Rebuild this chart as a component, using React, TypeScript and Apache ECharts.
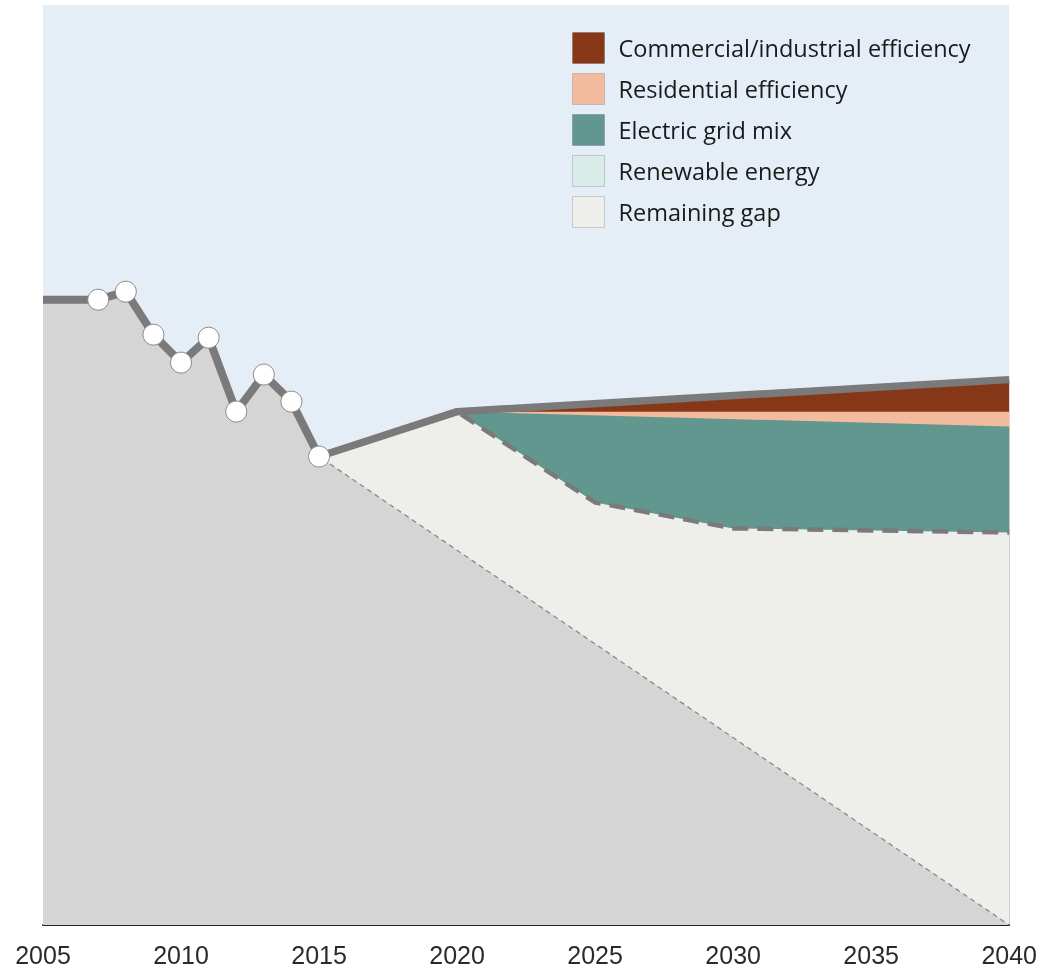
import React, { useEffect, useRef } from "react";
import * as echarts from "echarts";

// Historical record (arbitrary emission units, 0 = axis baseline)
const histYears = [2005, 2007, 2008, 2009, 2010, 2011, 2012, 2013, 2014, 2015];
const histValues = [67.97, 67.97, 68.84, 64.17, 61.13, 63.84, 55.81, 59.83, 56.89, 50.92];

// Projected emissions (top of wedges)
const projYears = [2015, 2020, 2040];
const projValues = [50.92, 55.8, 59.28];

// Top of residential efficiency wedge
const resYears = [2020, 2040];
const resTop = [55.8, 55.8];

// Top of electric grid mix wedge
const gridYears = [2020, 2040];
const gridTop = [55.8, 54.18];

// Bottom of electric grid mix wedge (dashed line) = top of remaining gap
const gridBottomYears = [2020, 2025, 2030, 2035, 2040];
const gridBottom = [55.8, 45.93, 43.11, 42.89, 42.67];

// Target pathway (thin dashed)
const targetYears = [2015, 2040];
const targetValues = [50.92, 0];

const xTicks = [2005, 2010, 2015, 2020, 2025, 2030, 2035, 2040];

const legendNames = [
  "Commercial/industrial efficiency",
  "Residential efficiency",
  "Electric grid mix",
  "Renewable energy",
  "Remaining gap",
];

const COLORS = {
  commercial: "#863718",
  residential: "#f3bb9d",
  grid: "#62978f",
  renewable: "#d9ebe8",
  gap: "#eeefeb",
  base: "#d5d5d5",
  bg: "#e5edf6",
  line: "#7a7a7a",
};

const zip = (xs: number[], ys: number[]) => xs.map((x, i) => [x, ys[i]]);

export default function App() {
  const ref = useRef<HTMLDivElement>(null);
  useEffect(() => {
    if (!ref.current) return;
    const chart = echarts.init(ref.current, null, { renderer: "svg" });

    const projFrom2020 = zip(projYears, projValues).filter((p) => p[0] >= 2020);
    const gapData = [
      [projYears[0], projValues[0]],
      ...zip(gridBottomYears, gridBottom),
    ];
    const baseData = [
      ...zip(histYears, histValues),
      ...zip(targetYears, targetValues).filter((p) => p[0] > histYears[histYears.length - 1]),
    ];

    const areaSeries = (name: string, data: number[][], color: string, extra: any = {}) => ({
      name,
      type: "line",
      data,
      showSymbol: false,
      symbol: "none",
      silent: true,
      itemStyle: { color },
      lineStyle: { width: 0, color },
      areaStyle: { color, opacity: 1 },
      ...extra,
    });

    chart.setOption({
      animation: false,
      grid: {
        left: 43,
        right: 30,
        top: 5,
        bottom: 41,
        show: true,
        backgroundColor: COLORS.bg,
        borderWidth: 0,
      },
      xAxis: {
        type: "value",
        min: 2005,
        max: 2040,
        interval: 5,
        axisLine: { show: true, lineStyle: { color: "#222", width: 2 } },
        axisTick: { show: false },
        splitLine: { show: false },
        axisLabel: {
          color: "#2a2a2a",
          fontSize: 25,
          fontFamily: "Liberation Sans, Arial, sans-serif",
          margin: 17,
          formatter: (v: number) => (xTicks.includes(v) ? String(v) : ""),
        },
      },
      yAxis: {
        type: "value",
        min: 0,
        max: 100,
        show: false,
        splitLine: { show: false },
      },
      legend: {
        data: legendNames.map((n) => ({ name: n, icon: "rect" })),
        orient: "vertical",
        left: 572,
        top: 32,
        padding: 0,
        itemWidth: 32,
        itemHeight: 31,
        itemGap: 9,
        selectedMode: false,
        itemStyle: { borderColor: "rgba(0,0,0,0.15)", borderWidth: 1 },
        textStyle: {
          fontFamily: "'Open Sans', 'Noto Sans', sans-serif",
          fontSize: 23.5,
          lineHeight: 31,
          color: "#1a1a1a",
          padding: [0, 0, 0, 9],
        },
      },
      series: [
        areaSeries(legendNames[0], projFrom2020, COLORS.commercial),
        areaSeries(legendNames[1], zip(resYears, resTop), COLORS.residential),
        areaSeries(legendNames[2], zip(gridYears, gridTop), COLORS.grid),
        areaSeries(legendNames[3], [], COLORS.renewable),
        areaSeries(legendNames[4], gapData, COLORS.gap, {
          lineStyle: { width: 4.5, color: COLORS.line, type: [16, 9] },
        }),
        areaSeries("Historical base", baseData, COLORS.base, {
          lineStyle: { width: 1.3, color: "#8a8a8a", type: [5, 4] },
        }),
        {
          name: "Projection",
          type: "line",
          data: zip(projYears, projValues),
          showSymbol: false,
          symbol: "none",
          silent: true,
          lineStyle: { width: 7.5, color: COLORS.line, cap: "butt", join: "round" },
        },
        {
          name: "Historical",
          type: "line",
          data: zip(histYears, histValues).map((p, i) => ({
            value: p,
            symbol: i === 0 ? "none" : "circle",
          })),
          symbol: "circle",
          symbolSize: 21,
          showAllSymbol: true,
          silent: true,
          itemStyle: { color: "#ffffff", borderColor: "#8a8a8a", borderWidth: 1 },
          lineStyle: { width: 8, color: COLORS.line, join: "round" },
        },
      ],
    });
    return () => chart.dispose();
  }, []);
  return (
    <div
      ref={ref}
      style={{ position: "fixed", left: 0, top: 0, width: 1040, height: 967 }}
    />
  );
}
